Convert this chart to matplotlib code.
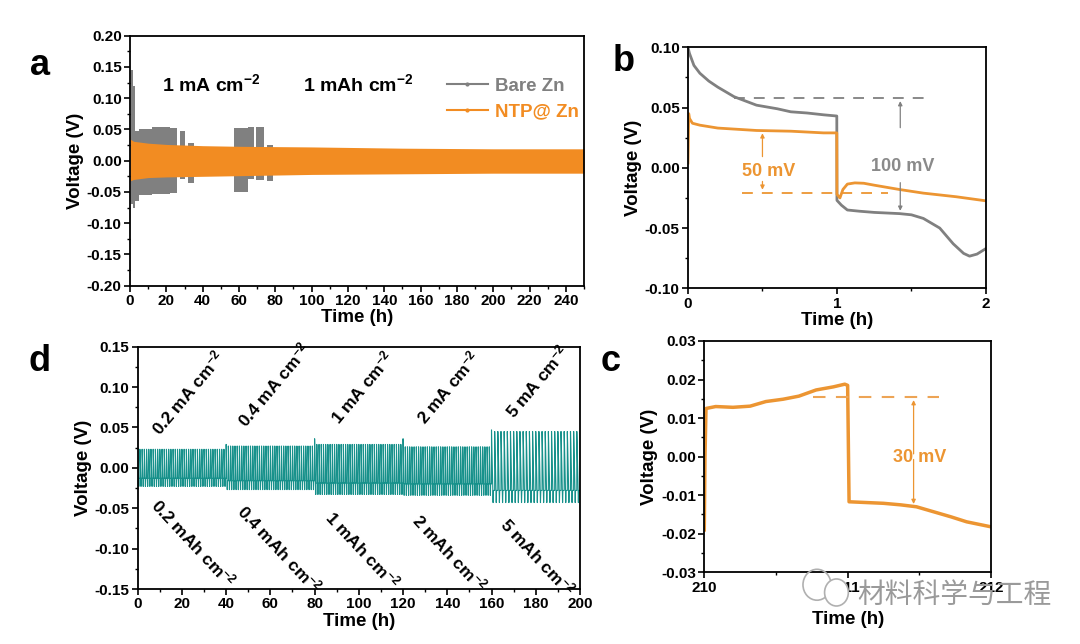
import numpy as np
import matplotlib
matplotlib.use("Agg")
import matplotlib.pyplot as plt
from matplotlib.lines import Line2D
from matplotlib.patches import Ellipse
from matplotlib.ticker import MultipleLocator, FormatStrFormatter

plt.rcParams['font.family'] = ['Liberation Sans', 'DejaVu Sans']
plt.rcParams['font.weight'] = 'bold'
plt.rcParams['axes.labelweight'] = 'bold'
plt.rcParams['axes.unicode_minus'] = False
plt.rcParams['mathtext.fontset'] = 'custom'
plt.rcParams['mathtext.rm'] = 'Liberation Sans:bold'
plt.rcParams['mathtext.bf'] = 'Liberation Sans:bold'
plt.rcParams['mathtext.default'] = 'bf'

GRAY = '#808080'
ORANGE = '#f28c22'
ORANGE2 = '#ec9532'
TEAL = '#17918b'

# ---- panel a : long cycling (envelopes of the dense voltage trace) ----
# bare Zn blocks: start (h), end (h), upper (V), lower (V)
bare_a_t0 = [0.5, 1.5, 2.5, 5, 12, 22, 27.5, 32, 57.5, 65, 69.5, 75.5]
bare_a_t1 = [1.5, 2.5, 5, 12, 22, 26, 30.5, 35, 65, 68.5, 73.5, 78.5]
bare_a_hi = [0.145, 0.12, 0.048, 0.050, 0.054, 0.052, 0.047, 0.028, 0.053, 0.054, 0.054, 0.025]
bare_a_lo = [-0.070, -0.076, -0.065, -0.055, -0.053, -0.052, -0.030, -0.036, -0.050, -0.030, -0.031, -0.033]

ntp_a_t = [0, 0.3, 2, 10, 20, 40, 60, 100, 150, 200, 250]
ntp_a_hi = [0.046, 0.034, 0.031, 0.028, 0.026, 0.024, 0.023, 0.022, 0.020, 0.019, 0.019]
ntp_a_lo = [-0.033, -0.032, -0.030, -0.027, -0.026, -0.025, -0.024, -0.022, -0.021, -0.020, -0.020]

# ---- panel b : first cycle ----
bare_b_t = [0, 0.01, 0.04, 0.08, 0.14, 0.2, 0.31, 0.46, 0.6, 0.69, 0.8, 0.91, 0.999,
            1.0, 1.03, 1.07, 1.15, 1.25, 1.42, 1.5, 1.58, 1.69, 1.78, 1.85, 1.89, 1.94, 2.0]
bare_b_v = [0.1, 0.095, 0.085, 0.0785, 0.072, 0.067, 0.059, 0.052, 0.049, 0.0465, 0.0455, 0.044, 0.043,
            -0.027, -0.031, -0.035, -0.036, -0.037, -0.038, -0.039, -0.042, -0.05, -0.063, -0.071, -0.0733, -0.0716, -0.067]
ntp_b_t = [0, 0.005, 0.01, 0.03, 0.08, 0.2, 0.46, 0.69, 0.91, 0.999,
           1.0, 1.02, 1.04, 1.07, 1.12, 1.18, 1.25, 1.42, 1.58, 1.8, 2.0]
ntp_b_v = [0.004, 0.045, 0.041, 0.037, 0.0354, 0.033, 0.031, 0.0304, 0.029, 0.029,
           -0.022, -0.025, -0.018, -0.0135, -0.0125, -0.0128, -0.0144, -0.018, -0.021, -0.024, -0.0274]

# ---- panel c : cycle at 210 h ----
ntp_c_t = [210, 210.005, 210.012, 210.08, 210.2, 210.32, 210.43, 210.55, 210.66, 210.78, 210.9, 210.98, 211.0,
           211.01, 211.13, 211.25, 211.37, 211.48, 211.6, 211.72, 211.83, 212]
ntp_c_v = [-0.019, 0.0, 0.0125, 0.013, 0.0128, 0.0131, 0.0143, 0.0149, 0.0157, 0.0173, 0.0181, 0.0188, 0.0185,
           -0.0117, -0.0119, -0.0121, -0.0125, -0.013, -0.0143, -0.0156, -0.0169, -0.0182]

# ---- panel d : rate test, one segment per current density ----
d_seg_start = [0, 40, 80, 120, 160]
d_seg_len = 40
d_cycles = [40, 40, 40, 40, 28]
d_first_hi = [0.026, 0.029, 0.036, 0.036, 0.047]
d_peak_hi = [0.023, 0.027, 0.029, 0.026, 0.045]
d_peak_lo = [-0.023, -0.027, -0.033, -0.034, -0.043]
d_plat_hi = [0.013, 0.016, 0.018, 0.017, 0.030]
d_plat_lo = [-0.013, -0.016, -0.019, -0.020, -0.028]
d_top_labels = ['0.2 mA cm$^{-2}$', '0.4 mA cm$^{-2}$', '1 mA cm$^{-2}$', '2 mA cm$^{-2}$', '5 mA cm$^{-2}$']
d_bot_labels = ['0.2 mAh cm$^{-2}$', '0.4 mAh cm$^{-2}$', '1 mAh cm$^{-2}$', '2 mAh cm$^{-2}$', '5 mAh cm$^{-2}$']
d_top_xy = [(11, 0.036), (50, 0.046), (92, 0.05), (131, 0.05), (171, 0.058)]
d_bot_xy = [(11, -0.033), (50, -0.041), (90, -0.048), (129, -0.052), (169, -0.057)]


def style(ax, xmaj, xmin, ymaj, ymin, yfmt, xpad=1):
    ax.xaxis.set_major_locator(MultipleLocator(xmaj))
    ax.xaxis.set_minor_locator(MultipleLocator(xmin))
    ax.yaxis.set_major_locator(MultipleLocator(ymaj))
    ax.yaxis.set_minor_locator(MultipleLocator(ymin))
    ax.yaxis.set_major_formatter(FormatStrFormatter(yfmt))
    ax.tick_params(which='major', direction='out', length=4, width=1.2, labelsize=11, pad=2)
    ax.tick_params(which='minor', direction='out', length=2, width=1.0)
    for s in ax.spines.values():
        s.set_linewidth(1.3)
    ax.set_xlabel('Time (h)', fontsize=13.5, labelpad=xpad)
    ax.set_ylabel('Voltage (V)', fontsize=13.5, labelpad=2)


fig = plt.figure(figsize=(10.8, 6.44), dpi=100)

# panel a
ax = fig.add_axes([0.1204, 0.5564, 0.4204, 0.3882])
ax.bar(bare_a_t0, np.subtract(bare_a_hi, bare_a_lo), width=np.subtract(bare_a_t1, bare_a_t0),
       bottom=bare_a_lo, align='edge', color=GRAY, linewidth=0)
ax.fill_between(ntp_a_t, ntp_a_lo, ntp_a_hi, color=ORANGE, linewidth=0)
ax.set_xlim(0, 250)
ax.set_ylim(-0.2, 0.2)
style(ax, 20, 10, 0.05, 0.025, '%.2f')
ax.set_xticks(np.arange(0, 241, 20))
ax.text(17.5, 0.122, '1 mA cm$^{-2}$', fontsize=14, va='center')
ax.text(95, 0.122, '1 mAh cm$^{-2}$', fontsize=14, va='center')
handles = [Line2D([], [], color=GRAY, lw=1.5, marker='.', ms=4),
           Line2D([], [], color=ORANGE, lw=1.5, marker='.', ms=4)]
leg = ax.legend(handles, ['Bare Zn', 'NTP@ Zn'], loc='upper left', bbox_to_anchor=(0.66, 0.9),
                frameon=False, fontsize=13.5, handlelength=2.2, handletextpad=0.4, labelspacing=0.45)
for t, c in zip(leg.get_texts(), [GRAY, ORANGE]):
    t.set_color(c)

# panel b
ax = fig.add_axes([0.637, 0.5523, 0.2759, 0.3742])
ax.plot(bare_b_t, bare_b_v, color=GRAY, lw=2)
ax.plot(ntp_b_t, ntp_b_v, color=ORANGE2, lw=2)
ax.plot([0.31, 1.6], [0.0577, 0.0577], color=GRAY, lw=1.3, ls=(0, (6, 5)))
ax.plot([0.36, 1.34], [-0.0205, -0.0205], color=ORANGE2, lw=1.3, ls=(0, (6, 5)))
arr = dict(arrowstyle='-|>', lw=0.9, mutation_scale=6)
ax.annotate('', xy=(1.425, 0.0577), xytext=(1.425, 0.031), arrowprops=dict(arr, color=GRAY))
ax.annotate('', xy=(1.425, -0.038), xytext=(1.425, -0.01), arrowprops=dict(arr, color=GRAY))
ax.annotate('', xy=(0.5, 0.031), xytext=(0.5, 0.007), arrowprops=dict(arr, color=ORANGE2))
ax.annotate('', xy=(0.5, -0.0205), xytext=(0.5, -0.009), arrowprops=dict(arr, color=ORANGE2))
ax.text(1.44, 0.001, '100 mV', color='#8a8a8a', fontsize=13, ha='center', va='center')
ax.text(0.54, -0.003, '50 mV', color=ORANGE2, fontsize=13, ha='center', va='center')
ax.set_xlim(0, 2)
ax.set_ylim(-0.1, 0.1)
style(ax, 1, 0.5, 0.05, 0.025, '%.2f')

# panel d
ax = fig.add_axes([0.1275, 0.0854, 0.4095, 0.3763])
dt, dv = [], []
for s in range(len(d_seg_start)):
    per = d_seg_len / d_cycles[s]
    for k in range(d_cycles[s]):
        t0 = d_seg_start[s] + k * per
        hi = d_first_hi[s] if k == 0 else d_peak_hi[s]
        dt += [t0, t0 + 0.1 * per, t0 + 0.5 * per, t0 + 0.6 * per, t0 + per]
        dv += [hi, d_plat_hi[s], d_peak_lo[s], d_plat_lo[s], d_plat_lo[s]]
ax.plot(dt, dv, color=TEAL, lw=0.8)
for lab, (x, y) in zip(d_top_labels, d_top_xy):
    ax.text(x, y, lab, rotation=50, rotation_mode='anchor', ha='left', va='bottom', fontsize=12.5)
for lab, (x, y) in zip(d_bot_labels, d_bot_xy):
    ax.text(x, y, lab, rotation=-47, rotation_mode='anchor', ha='left', va='top', fontsize=12.5)
ax.set_xlim(0, 200)
ax.set_ylim(-0.15, 0.15)
style(ax, 20, 10, 0.05, 0.025, '%.2f')

# panel c
ax = fig.add_axes([0.6521, 0.1113, 0.2655, 0.3592])
ax.plot(ntp_c_t, ntp_c_v, color=ORANGE2, lw=2.5)
ax.plot([210.76, 211.64], [0.0154, 0.0154], color='#eda455', lw=1.5, ls=(0, (6, 5)))
ax.annotate('', xy=(211.46, 0.0154), xytext=(211.46, 0.0), arrowprops=dict(arr, color=ORANGE2))
ax.annotate('', xy=(211.46, -0.013), xytext=(211.46, 0.0), arrowprops=dict(arr, color=ORANGE2))
ax.text(211.505, -0.0002, '30 mV', color=ORANGE2, fontsize=13, ha='center', va='center')
ax.set_xlim(210, 212)
ax.set_ylim(-0.03, 0.03)
style(ax, 1, 0.5, 0.01, 0.005, '%.2f', xpad=12)
ax.xaxis.set_major_formatter(FormatStrFormatter('%d'))

# panel letters
for lab, x, y in [('a', 0.037, 0.899), ('b', 0.577, 0.904), ('d', 0.037, 0.438), ('c', 0.565, 0.438)]:
    fig.text(x, y, lab, fontsize=26, ha='center', va='center')

# watermark
fig.patches.append(Ellipse((0.7565, 0.092), 0.026, 0.048, transform=fig.transFigure,
                           facecolor='none', edgecolor='#b0b0b0', lw=1.2))
fig.patches.append(Ellipse((0.7745, 0.080), 0.022, 0.042, transform=fig.transFigure,
                           facecolor='white', edgecolor='#b0b0b0', lw=1.2))
fig.text(0.7935, 0.076, '材料科学与工程', fontsize=20, color='#9a9a9a', va='center',
         family=['Noto Sans CJK SC', 'DejaVu Sans'], weight='light')

fig.savefig('out.png', dpi=100, facecolor='white')
